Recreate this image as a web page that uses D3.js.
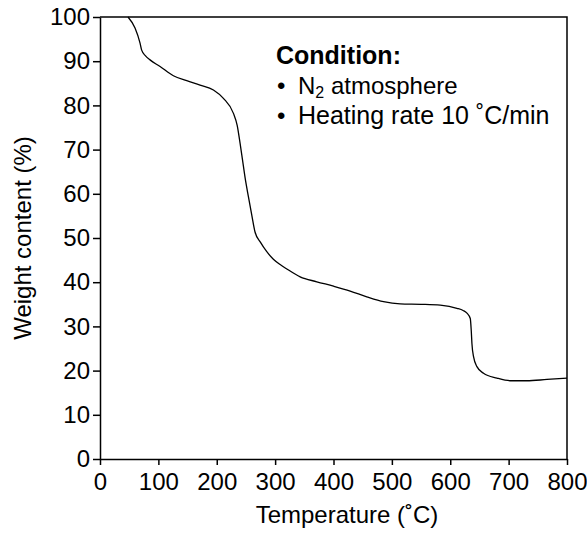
<!DOCTYPE html>
<html>
<head>
<meta charset="utf-8">
<script src="https://cdn.jsdelivr.net/npm/d3@7"></script>
<style>
  html, body { margin: 0; padding: 0; background: #fff; }
  svg { display: block; font-family: "Liberation Sans", Arial, Helvetica, sans-serif; }
</style>
</head>
<body>
<svg id="chart" width="587" height="533"></svg>
<script>
// TGA curve: temperature (°C) and remaining weight (%)
const temperature = [48, 60, 68.6, 71.4, 78, 85.7, 102.9, 125.7, 148.6, 171.4, 194.3, 211.4, 228.6, 235,
  240, 244, 248.6, 254.3, 260, 265.7, 275, 285.7, 297, 308.6, 320, 342.9, 371.4, 400, 428.6, 457,
  485.7, 514.3, 550, 582.9, 611.4, 622, 628.6, 634.3, 636, 637.1, 640, 645.7, 657, 680, 702.9, 731, 765.7, 800];
const weight = [100, 97.5, 94.1, 92.5, 91.2, 90.3, 88.8, 86.7, 85.6, 84.6, 83.5, 81.6, 78.2, 75.5,
  71.4, 67.8, 63.6, 59.3, 55.2, 51.3, 49.0, 46.9, 45.2, 44.0, 43.0, 41.2, 40.1, 39.1, 38.0, 36.7,
  35.6, 35.1, 35.0, 34.8, 34.1, 33.6, 33.0, 31.8, 29.0, 26.2, 23.1, 20.9, 19.4, 18.3, 17.7, 17.7, 18.0, 18.3];

const xTicks = [0, 100, 200, 300, 400, 500, 600, 700, 800];
const yTicks = [0, 10, 20, 30, 40, 50, 60, 70, 80, 90, 100];

const svg = d3.select("#chart");
const x = d3.scaleLinear().domain([0, 800]).range([100, 567]);
const y = d3.scaleLinear().domain([0, 100]).range([459, 17]);

const fontSize = 24;
const fontFamily = "\"Liberation Sans\", Arial, sans-serif";

// Axes
const xAxis = svg.append("g")
  .attr("transform", `translate(0,${y(0)})`)
  .call(d3.axisBottom(x).tickValues(xTicks).tickSize(6).tickPadding(8).tickSizeOuter(0));
const yAxis = svg.append("g")
  .attr("transform", `translate(${x(0)},0)`)
  .call(d3.axisLeft(y).tickValues(yTicks).tickSize(7).tickPadding(3).tickSizeOuter(0));

[xAxis, yAxis].forEach(g => {
  g.selectAll("path, line").attr("stroke", "#000").attr("stroke-width", 1.5);
  g.selectAll("text").attr("fill", "#000").style("font-size", fontSize + "px")
    .style("font-family", fontFamily);
});

// Frame: top and right edges
svg.append("path")
  .attr("d", `M${x(0)},${y(100)} H${x(800)} V${y(0)}`)
  .attr("fill", "none").attr("stroke", "#000").attr("stroke-width", 1.5);

// Curve
const line = d3.line().x((d, i) => x(temperature[i])).y((d, i) => y(weight[i])).curve(d3.curveMonotoneX);
svg.append("path")
  .datum(weight)
  .attr("d", line)
  .attr("fill", "none").attr("stroke", "#000").attr("stroke-width", 1.3);

// Axis titles
svg.append("text")
  .attr("x", 347).attr("y", 523)
  .attr("text-anchor", "middle").style("font-size", fontSize + "px")
  .text("Temperature (˚C)");
svg.append("text")
  .attr("transform", `translate(31,${(y(0) + y(100)) / 2}) rotate(-90)`)
  .attr("text-anchor", "middle").style("font-size", fontSize + "px")
  .text("Weight content (%)");

// Condition note
const note = svg.append("g").style("font-size", "24px");
note.append("text").attr("x", 276).attr("y", 64).attr("font-weight", "bold").style("font-size", "25px").text("Condition:");
const bulletX = 277, itemX = 298;
[94, 124].forEach(b => note.append("text").attr("x", bulletX).attr("y", b).text("•"));
const l1 = note.append("text").attr("x", itemX).attr("y", 94);
l1.append("tspan").text("N");
l1.append("tspan").attr("dy", 4).style("font-size", "16px").text("2");
l1.append("tspan").attr("dy", -4).text(" atmosphere");
note.append("text").attr("x", itemX).attr("y", 124).style("font-size", "25px").text("Heating rate 10 ˚C/min");
</script>
</body>
</html>
